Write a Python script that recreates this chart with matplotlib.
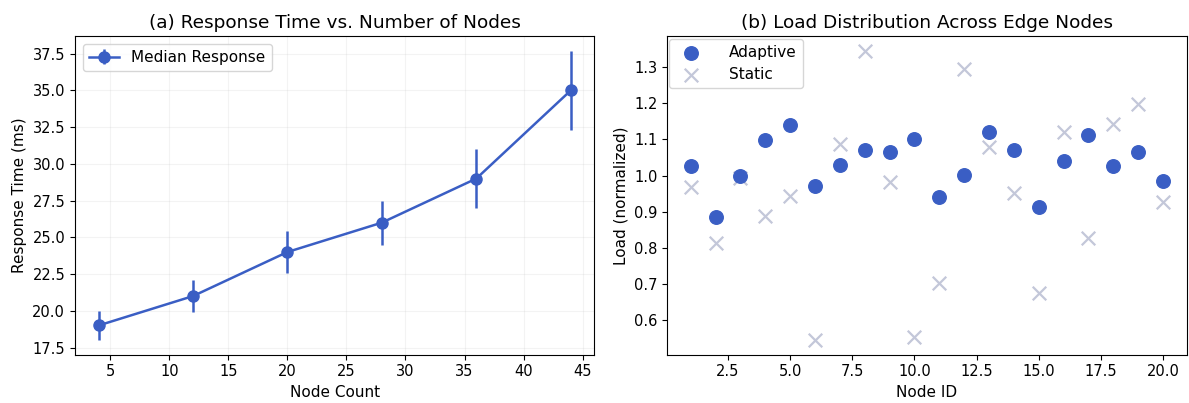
import numpy as np
import matplotlib.pyplot as plt

plt.rcParams.update({"font.size": 10.5})

# panel (a): response time vs node count
node_counts = [4, 12, 20, 28, 36, 44]
median_resp = [19.0, 21.0, 24.0, 26.0, 29.0, 35.0]
resp_err = [1.0, 1.1, 1.4, 1.5, 2.0, 2.7]

# panel (b): load per edge node
node_ids = list(range(1, 21))
load_adaptive = [1.027, 0.885, 1.000, 1.097, 1.140, 0.970, 1.030, 1.072, 1.066, 1.100,
                 0.942, 1.002, 1.120, 1.070, 0.912, 1.040, 1.112, 1.026, 1.064, 0.985]
load_static = [0.968, 0.813, 0.992, 0.889, 0.944, 0.545, 1.087, 1.345, 0.983, 0.553,
               0.702, 1.295, 1.080, 0.951, 0.676, 1.120, 0.828, 1.142, 1.198, 0.928]

BLUE = "#3a5ec4"
GREY = "#c3c7d9"

fig, (ax1, ax2) = plt.subplots(1, 2, figsize=(11.89, 4.03), dpi=100)

ax1.errorbar(node_counts, median_resp, yerr=resp_err, fmt="o-", color=BLUE,
             markersize=8, linewidth=1.8, elinewidth=1.8, label="Median Response")
ax1.set_xlabel("Node Count", fontsize=11)
ax1.set_ylabel("Response Time (ms)", fontsize=11)
ax1.set_title("(a) Response Time vs. Number of Nodes", fontsize=13.3)
ax1.grid(True, alpha=0.15)
ax1.legend(loc="upper left", fontsize=11)

ax2.scatter(node_ids, load_adaptive, s=95, color=BLUE, label="Adaptive", zorder=3)
ax2.scatter(node_ids, load_static, s=95, marker="x", color=GREY, linewidths=1.6,
            label="Static", zorder=2)
ax2.set_xlabel("Node ID", fontsize=11)
ax2.set_ylabel("Load (normalized)", fontsize=11)
ax2.set_title("(b) Load Distribution Across Edge Nodes", fontsize=13.3)
ax2.legend(loc="upper left", fontsize=11, borderaxespad=0.15, handletextpad=1.5)

plt.subplots_adjust(left=0.063, right=0.998, bottom=0.12, top=0.91, wspace=0.14)
plt.savefig("out.png")
